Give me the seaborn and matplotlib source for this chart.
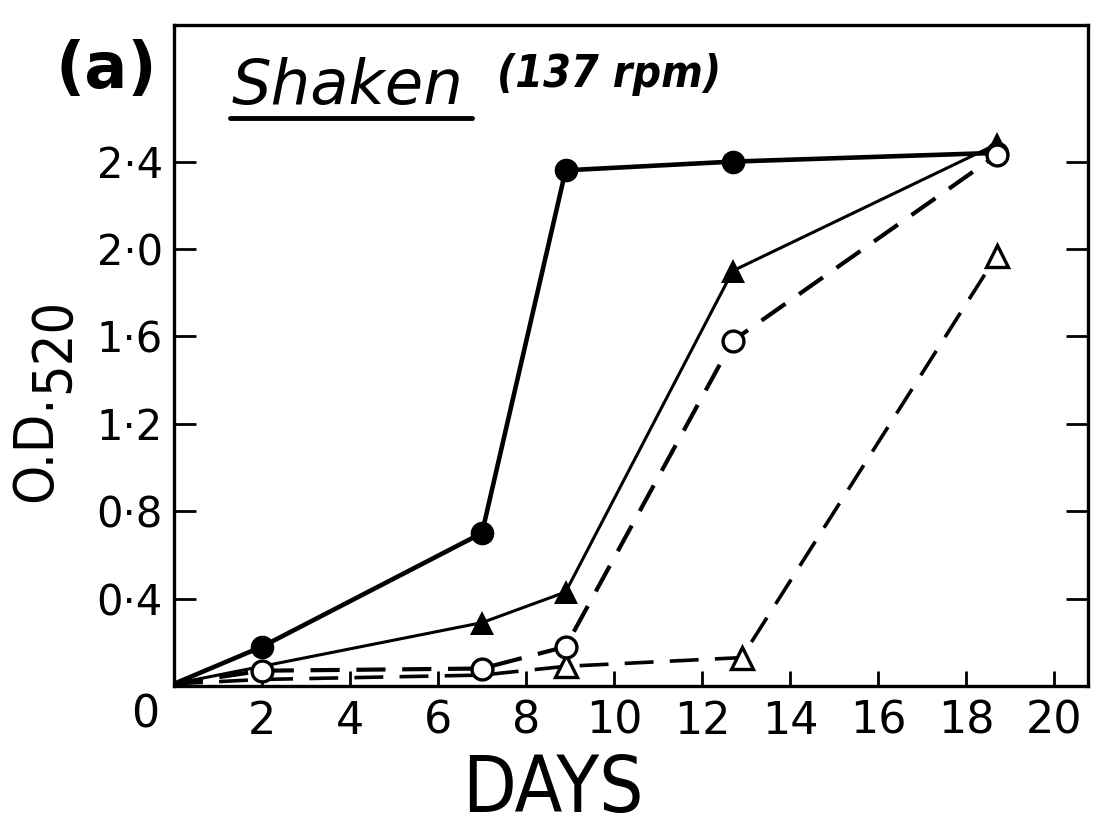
import matplotlib
matplotlib.use("Agg")
import matplotlib.pyplot as plt
import seaborn as sns
from matplotlib import font_manager as fm
from matplotlib.lines import Line2D

# ---------------- data ----------------
days_fc = [0, 2, 7, 8.9, 12.7, 18.7]
od_fc = [0.01, 0.18, 0.70, 2.36, 2.40, 2.44]          # filled circles, solid

days_ft = [0, 7, 8.9, 12.7, 18.7]
od_ft = [0.01, 0.29, 0.43, 1.90, 2.48]                # filled triangles, solid

days_oc = [0, 2, 7, 8.9, 12.7, 18.7]
od_oc = [0.01, 0.07, 0.08, 0.18, 1.58, 2.43]          # open circles, dashed

days_ot = [0, 2, 7, 8.9, 12.9, 18.7]
od_ot = [0.01, 0.03, 0.05, 0.09, 0.13, 1.97]          # open triangles, dashed

x_ticks = [2, 4, 6, 8, 10, 12, 14, 16, 18, 20]
x_ticklabels = ["2", "4", "6", "8", "10", "12", "14", "16", "18", "20"]
y_ticks = [0.4, 0.8, 1.2, 1.6, 2.0, 2.4]
y_ticklabels = ["0·4", "0·8", "1·2", "1·6", "2·0", "2·4"]

# ---------------- style ----------------
sns.set_style("ticks")
names = {f.name for f in fm.fontManager.ttflist}
NARROW = "Liberation Sans Narrow" if "Liberation Sans Narrow" in names else "DejaVu Sans"
plt.rcParams["font.family"] = ["DejaVu Sans"]
for k in ("text.color", "axes.labelcolor", "xtick.color", "ytick.color", "axes.edgecolor"):
    plt.rcParams[k] = "black"

W, H = 1101, 830
fig = plt.figure(figsize=(W / 100, H / 100), dpi=100)
L, R, B, T = 174, 1088, 686, 25
ax = fig.add_axes([L / W, 1 - B / H, (R - L) / W, (B - T) / H])

common = dict(ax=ax, sort=False, color="black", legend=False)
sns.lineplot(x=days_fc, y=od_fc, marker="o", markersize=17, markeredgewidth=0,
             markerfacecolor="black", linewidth=3.3, markevery=[1, 2, 3, 4, 5],
             zorder=4, **common)
sns.lineplot(x=days_ft, y=od_ft, marker="^", markersize=17, markeredgewidth=0,
             markerfacecolor="black", linewidth=2.2, markevery=[1, 2, 3, 4],
             zorder=3, **common)
sns.lineplot(x=days_oc, y=od_oc, marker="o", markersize=15, markeredgewidth=2.4,
             markerfacecolor="white", markeredgecolor="black", linewidth=3.0,
             linestyle=(0, (7, 4)), markevery=[1, 2, 3, 4, 5], zorder=5, **common)
sns.lineplot(x=days_ot, y=od_ot, marker="^", markersize=16, markeredgewidth=2.4,
             markerfacecolor="white", markeredgecolor="black", linewidth=2.6,
             linestyle=(0, (8, 4.5)), markevery=[3, 4, 5], zorder=4, **common)

ax.set_xlim(0, (R - L) / 44.0)
ax.set_ylim(0, (B - T) / 218.5)

ax.set_xticks(x_ticks)
ax.set_xticklabels(x_ticklabels, fontsize=32)
ax.set_yticks(y_ticks)
ax.set_yticklabels(y_ticklabels, fontsize=30)
ax.tick_params(axis="x", direction="in", length=11, width=2, pad=10, bottom=True, top=False)
ax.tick_params(axis="y", direction="in", length=16, width=2, pad=8, left=True, right=True)
for s in ax.spines.values():
    s.set_linewidth(2.4)
    s.set_color("black")
ax.set_xlabel("")
ax.set_ylabel("")

# "0" at the origin
ax.text(-0.65, -0.035, "0", transform=ax.transData, ha="center", va="top",
        fontsize=32, clip_on=False)

def ftext(x, y, s, **kw):
    fig.text(x / W, 1 - y / H, s, **kw)

# axis titles
ftext(553, 790, "DAYS", ha="center", va="center", fontsize=56, family=NARROW,
      fontstretch="condensed")
ftext(36, 448, "O.D.", ha="center", va="center", rotation=90, fontsize=40,
      family=NARROW, fontstretch="condensed", fontweight="light")
ftext(54, 345, "520", ha="center", va="center", rotation=90, fontsize=40,
      family=NARROW, fontstretch="condensed", fontweight="light")

# panel label and title
ftext(106, 70, "(a)", ha="center", va="center", fontsize=46, fontweight="bold")
ftext(232, 104, "Shaken", ha="left", va="baseline", fontsize=45, style="italic")
fig.add_artist(Line2D([230 / W, 472 / W], [1 - 118 / H, 1 - 118 / H],
                      color="black", linewidth=3.5))
ftext(497, 75, "(137 rpm)", ha="left", va="center", fontsize=32, style="italic",
      fontweight="bold", family=NARROW, fontstretch="condensed")

fig.savefig("out.png", dpi=100)
